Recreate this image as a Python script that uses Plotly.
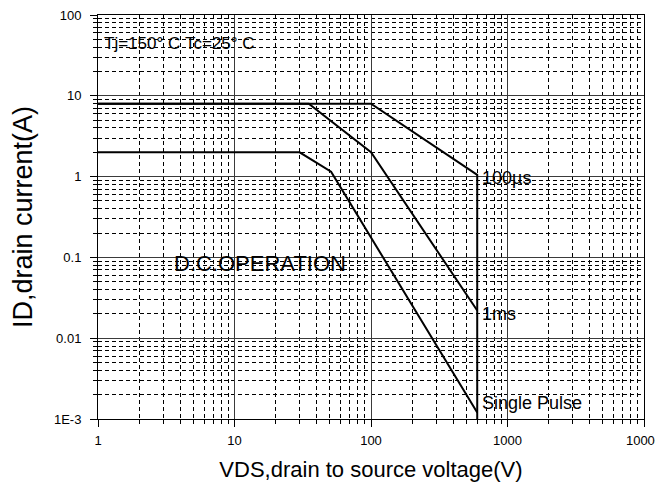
import math
import plotly.graph_objects as go

# ---- data ----
x_tickvals = [1, 10, 100, 1000, 10000]
x_ticktext = ["1", "10", "100", "1000", "10000"]
y_tickvals = [0.001, 0.01, 0.1, 1, 10, 100]
y_ticktext = ["1E-3", "0.01", "0.1", "1", "10", "100"]

us100_v = [1, 100, 600, 600]
us100_i = [8, 8, 1.05, 0.001]
ms1_v = [1, 35, 100, 600]
ms1_i = [8, 8, 2.0, 0.022]
sp_v = [1, 30, 51, 600]
sp_i = [2, 2, 1.15, 0.0012]

label_text = ["100µs", "1ms", "Single Pulse"]
label_v = [600, 600, 600]
label_i = [0.96, 0.02, 0.0016]

dc_text = "D.C.OPERATION"
dc_v, dc_i = 15.4, 0.085
cond_text = "Tj=150°\u00a0C\u00a0Tc=25°\u00a0C"
cond_i = 45

minor_x = [m * 10 ** k for k in range(0, 4) for m in range(2, 10)]
minor_y = [m * 10 ** k for k in range(-3, 2) for m in range(2, 10)]

FONT = "Liberation Sans, Arial, sans-serif"

fig = go.Figure()
for v, i in [(us100_v, us100_i), (ms1_v, ms1_i), (sp_v, sp_i)]:
    fig.add_trace(go.Scatter(x=v, y=i, mode="lines",
                             line=dict(color="black", width=2),
                             showlegend=False, hoverinfo="skip"))

annotations = []
for t, v, i in zip(label_text, label_v, label_i):
    annotations.append(dict(x=math.log10(v), y=math.log10(i), text=t,
                            xanchor="left", yanchor="middle", xshift=3,
                            showarrow=False,
                            font=dict(family=FONT, size=18, color="black")))
annotations.append(dict(x=math.log10(dc_v), y=math.log10(dc_i), text=dc_text,
                        xanchor="center", yanchor="middle", showarrow=False,
                        font=dict(family=FONT, size=22, color="black")))
annotations.append(dict(x=0.008, xref="paper", y=math.log10(cond_i), text=cond_text,
                        xanchor="left", yanchor="middle", showarrow=False,
                        font=dict(family=FONT, size=17, color="black")))

axis_common = dict(
    type="log", automargin=False, ticklabeloverflow="allow",
    showline=True, linecolor="black", linewidth=1, mirror=True,
    showgrid=True, gridcolor="#3a3a3a", gridwidth=1,
    ticks="outside", ticklen=7, tickcolor="black",
    zeroline=False,
    tickfont=dict(family=FONT, size=13, color="black"),
)

# page body has an 8px default margin, so the figure is sized to fit the window
fig.update_layout(
    width=655, height=474,
    margin=dict(l=90, r=19, t=7, b=63),
    paper_bgcolor="white", plot_bgcolor="white",
    xaxis=dict(**axis_common, range=[0, 4],
               tickmode="array", tickvals=x_tickvals, ticktext=x_ticktext,
               ticklabelstandoff=2,
               minor=dict(tickmode="array", tickvals=minor_x, showgrid=True,
                          gridcolor="black", gridwidth=1, griddash="4px,3px",
                          ticks="outside", ticklen=4, tickcolor="black"),
               title=dict(text="VDS,drain to source voltage(V)",
                          font=dict(family=FONT, size=22, color="black"),
                          standoff=16)),
    yaxis=dict(**axis_common, range=[-3, 2],
               tickmode="array", tickvals=y_tickvals, ticktext=y_ticktext,
               ticklabelstandoff=6,
               minor=dict(tickmode="array", tickvals=minor_y, showgrid=True,
                          gridcolor="black", gridwidth=1, griddash="4px,3px",
                          ticks="outside", ticklen=4, tickcolor="black"),
               title=dict(text="ID,drain current(A)",
                          font=dict(family=FONT, size=27, color="black"),
                          standoff=28)),
    annotations=annotations,
)

fig.write_html(
    "out.html",
    post_script="document.documentElement.style.overflow='hidden';"
                "document.body.style.overflow='hidden';",
)
